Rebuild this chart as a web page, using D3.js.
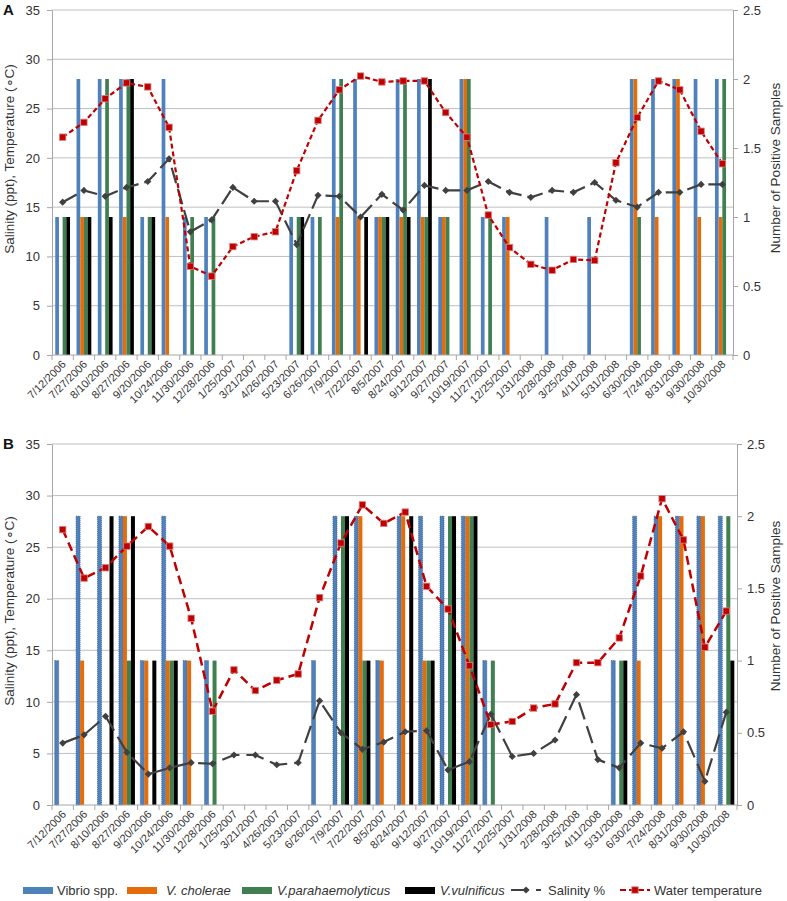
<!DOCTYPE html>
<html><head><meta charset="utf-8">
<script src="https://cdn.jsdelivr.net/npm/d3@7"></script>
<style>
body{margin:0;background:#fff;}
svg{display:block;font-family:"Liberation Sans",Arial,sans-serif;}
</style></head><body>
<svg id="c" width="787" height="901"></svg>
<script>
const dates = ["7/12/2006","7/27/2006","8/10/2006","8/27/2006","9/20/2006","10/24/2006","11/30/2006","12/28/2006",
  "1/25/2007","3/21/2007","4/26/2007","5/23/2007","6/26/2007","7/9/2007","7/22/2007","8/5/2007","8/24/2007",
  "9/12/2007","9/27/2007","10/19/2007","11/27/2007","12/25/2007","1/31/2008","2/28/2008","3/25/2008","4/11/2008",
  "5/31/2008","6/30/2008","7/24/2008","8/31/2008","9/30/2008","10/30/2008"];
const tempTicks = [0,5,10,15,20,25,30,35];
const countTicks = [0,0.5,1,1.5,2,2.5];
const seriesNames = ["Vibrio spp.","V. cholerae","V.parahaemolyticus","V.vulnificus"];
const lineNames = ["Salinity %","Water temperature"];
const leftTitle = "Salinity (ppt), Temperature (\u2218C)";
const rightTitle = "Number of Positive Samples";

// Panel A
const vibrioA       = [1,2,2,2,1,2,1,1,0,0,0,1,1,2,2,1,2,2,1,2,1,1,0,1,0,1,0,2,2,2,2,2];
const choleraeA     = [0,1,0,1,0,1,0,0,0,0,0,0,0,1,1,1,1,1,1,2,0,1,0,0,0,0,0,2,1,2,1,1];
const parahaemA     = [1,1,2,2,1,0,1,1,0,0,0,1,1,2,0,1,2,1,1,2,1,0,0,0,0,0,0,1,0,0,0,2];
const vulnificusA   = [1,1,1,2,1,0,0,0,0,0,0,1,0,0,1,1,1,2,0,0,0,0,0,0,0,0,0,0,0,0,0,0];
const salinityA     = [15.5,16.7,16.1,17.0,17.6,19.9,12.5,13.7,17.0,15.6,15.6,11.2,16.2,16.1,14.0,16.3,
                       14.7,17.2,16.7,16.7,17.6,16.5,16.0,16.7,16.5,17.5,15.7,15.0,16.5,16.5,17.3,17.3];
const temperatureA  = [22.1,23.6,26.0,27.6,27.2,23.1,9.0,8.0,11.0,12.0,12.5,18.7,23.8,26.9,28.3,27.7,
                       27.8,27.8,24.6,22.1,14.2,10.9,9.2,8.6,9.7,9.6,19.5,24.1,27.8,26.9,22.7,19.4];

// Panel B
const vibrioB       = [1,2,2,2,1,2,1,1,0,0,0,0,1,2,2,1,2,2,2,2,1,0,0,0,0,0,1,2,2,2,2,2];
const choleraeB     = [0,1,0,2,1,1,1,0,0,0,0,0,0,0,2,1,2,1,0,2,0,0,0,0,0,0,0,1,2,2,2,0];
const parahaemB     = [0,0,0,1,0,1,0,1,0,0,0,0,0,2,1,0,0,1,2,2,1,0,0,0,0,0,1,0,0,0,0,2];
const vulnificusB   = [0,0,2,2,1,1,0,0,0,0,0,0,0,2,1,0,2,1,2,2,0,0,0,0,0,0,1,0,0,0,0,1];
const salinityB     = [6.0,6.8,8.6,5.1,3.0,3.6,4.1,4.0,4.85,4.85,3.9,4.1,10.1,7.0,5.4,6.1,
                       7.1,7.2,3.4,4.2,8.8,4.7,5.0,6.3,10.7,4.4,3.6,6.0,5.5,7.1,2.3,9.0];
const temperatureB  = [26.7,22.0,23.0,25.1,27.0,25.1,18.1,9.1,13.1,11.1,12.1,12.7,20.1,25.4,29.1,27.3,
                       28.4,21.2,19.0,13.5,7.8,8.1,9.4,9.8,13.8,13.8,16.2,22.2,29.7,25.7,15.3,18.8];

const colors = ["#4f81bd","#e46c0a","#3f7f50","#000000"];
const salColor = "#404040", tempColor = "#c00000";
const axisColor = "#a6a6a6", gridColor = "#bfbfbf", textColor = "#333";

const svg = d3.select("#c");

function diamond(r){ return `M0,${-r}L${r},0L0,${r}L${-r},0Z`; }

function drawPanel(p){
  const g = svg.append("g");
  const x0 = d3.scaleBand().domain(dates).range([p.left,p.right]);
  const x1 = d3.scaleBand().domain(d3.range(4)).range([0,x0.bandwidth()]).paddingOuter(p.barPad);
  const yL = d3.scaleLinear().domain([0,35]).range([p.bottom,p.top]);
  const yR = d3.scaleLinear().domain([0,2.5]).range([p.bottom,p.top]);
  const cx = d => x0(d) + x0.bandwidth()/2;

  // gridlines
  g.append("g").selectAll("line").data(tempTicks.filter(t=>t>0)).join("line")
    .attr("x1",p.left).attr("x2",p.right)
    .attr("y1",d=>yL(d)).attr("y2",d=>yL(d))
    .attr("stroke",gridColor).attr("stroke-width",1);

  // bars
  p.bars.forEach((arr,si)=>{
    const sel = g.append("g").selectAll("rect")
      .data(arr.map((v,i)=>({v,i})).filter(d=>d.v>0)).join("rect")
      .attr("x",d=>x0(dates[d.i])+x1(si)).attr("width",x1.bandwidth())
      .attr("y",d=>yR(d.v)).attr("height",d=>yR(0)-yR(d.v))
      .attr("fill",colors[si]);
    if(p.dotted && si===0){
      sel.attr("stroke","#2a4a7a").attr("stroke-width",0.7).attr("stroke-dasharray","1,1");
    }
  });

  // left axis
  const la = g.append("g").attr("transform",`translate(${p.left},0)`)
    .call(d3.axisLeft(yL).tickValues(tempTicks).tickSize(5).tickSizeOuter(0).tickPadding(7));
  la.select(".domain").attr("stroke",axisColor);
  la.selectAll(".tick line").attr("stroke",axisColor);
  la.selectAll("text").attr("font-size",13).attr("fill",textColor).attr("font-family","Liberation Sans, Arial, sans-serif");

  // right axis
  const ra = g.append("g").attr("transform",`translate(${p.right},0)`)
    .call(d3.axisRight(yR).tickValues(countTicks).tickFormat(d=>String(d)).tickSize(5).tickSizeOuter(0).tickPadding(5));
  ra.select(".domain").attr("stroke",axisColor);
  ra.selectAll(".tick line").attr("stroke",axisColor);
  ra.selectAll("text").attr("font-size",13).attr("fill",textColor).attr("font-family","Liberation Sans, Arial, sans-serif");

  // bottom axis line + boundary ticks
  g.append("line").attr("x1",p.left).attr("x2",p.right).attr("y1",p.bottom).attr("y2",p.bottom)
    .attr("stroke",axisColor);
  const bounds = dates.map(d=>x0(d)).concat([p.right]);
  g.append("g").selectAll("line").data(bounds).join("line")
    .attr("x1",d=>d).attr("x2",d=>d).attr("y1",p.bottom).attr("y2",p.bottom+5)
    .attr("stroke",axisColor);
  g.append("g").selectAll("text").data(dates).join("text")
    .attr("transform",d=>`translate(${cx(d)+4},${p.bottom+10}) rotate(-45)`)
    .attr("text-anchor","end").attr("font-size",11).attr("fill",textColor)
    .text(d=>d);

  // salinity line
  g.append("path").datum(p.sal)
    .attr("d",d3.line().x((v,i)=>cx(dates[i])).y(v=>yL(v)))
    .attr("fill","none").attr("stroke",salColor).attr("stroke-width",2.2)
    .attr("stroke-dasharray",p.salDash);
  g.append("g").selectAll("path").data(p.sal).join("path")
    .attr("transform",(v,i)=>`translate(${cx(dates[i])},${yL(v)})`)
    .attr("d",diamond(3.6)).attr("fill",salColor);

  // temperature line
  g.append("path").datum(p.temp)
    .attr("d",d3.line().x((v,i)=>cx(dates[i])).y(v=>yL(v)))
    .attr("fill","none").attr("stroke",tempColor).attr("stroke-width",p.tempWidth)
    .attr("stroke-dasharray",p.tempDash);
  g.append("g").selectAll("rect").data(p.temp).join("rect")
    .attr("x",(v,i)=>cx(dates[i])-3.2).attr("y",v=>yL(v)-3.2)
    .attr("width",6.4).attr("height",6.4)
    .attr("fill",tempColor).attr("stroke","#d98080").attr("stroke-width",0.8);

  // panel letter
  g.append("text").attr("x",3).attr("y",p.top+5).attr("font-size",15).attr("font-weight","bold")
    .attr("fill","#111").text(p.letter);

  // axis titles
  g.append("text").attr("transform",`translate(${p.leftTitleX},${p.leftTitleY}) rotate(-90)`)
    .attr("text-anchor","middle").attr("dominant-baseline","middle")
    .attr("font-size",13.5).attr("fill",textColor).text(leftTitle);
  g.append("text").attr("transform",`translate(${p.rightTitleX},${p.rightTitleY}) rotate(-90)`)
    .attr("text-anchor","middle").attr("dominant-baseline","middle")
    .attr("font-size",13.5).attr("fill",textColor).text(rightTitle);
}

drawPanel({letter:"A",left:52,right:733,top:10,bottom:355,barPad:0.88,dotted:false,
  bars:[vibrioA,choleraeA,parahaemA,vulnificusA],sal:salinityA,temp:temperatureA,
  salDash:"16,6",tempDash:"5,3",tempWidth:2.2,
  leftTitleX:10,leftTitleY:159,rightTitleX:776,rightTitleY:168});
drawPanel({letter:"B",left:52,right:737,top:444,bottom:805,barPad:0.67,dotted:true,
  bars:[vibrioB,choleraeB,parahaemB,vulnificusB],sal:salinityB,temp:temperatureB,
  salDash:"18,7",tempDash:"9,5",tempWidth:2.5,
  leftTitleX:10,leftTitleY:611,rightTitleX:776,rightTitleY:606});

// legend
const legY = 890;
const lg = svg.append("g");
const boxX = [23,127,242,405];
const boxTextX = [57,166,277,440];
seriesNames.forEach((n,i)=>{
  lg.append("rect").attr("x",boxX[i]).attr("y",legY-3).attr("width",30).attr("height",7).attr("fill",colors[i]);
  lg.append("text").attr("x",boxTextX[i]).attr("y",legY+5).attr("font-size",13).attr("fill",textColor)
    .attr("font-style",i===0?"normal":"italic").text(n);
});
const lineX = [511,620];
const lineTextX = [548,654];
const lineCols = [salColor,tempColor];
const lineDash = ["18,7","6,3"];
lineNames.forEach((n,i)=>{
  lg.append("line").attr("x1",lineX[i]).attr("x2",lineX[i]+30).attr("y1",legY).attr("y2",legY)
    .attr("stroke",lineCols[i]).attr("stroke-width",2.2).attr("stroke-dasharray",lineDash[i]);
  if(i===0){
    lg.append("path").attr("transform",`translate(${lineX[i]+15},${legY})`).attr("d",diamond(3.6)).attr("fill",salColor);
  } else {
    lg.append("rect").attr("x",lineX[i]+15-3.2).attr("y",legY-3.2).attr("width",6.4).attr("height",6.4)
      .attr("fill",tempColor).attr("stroke","#d98080").attr("stroke-width",0.8);
  }
  lg.append("text").attr("x",lineTextX[i]).attr("y",legY+5).attr("font-size",13).attr("fill",textColor).text(n);
});
</script>
</body></html>
